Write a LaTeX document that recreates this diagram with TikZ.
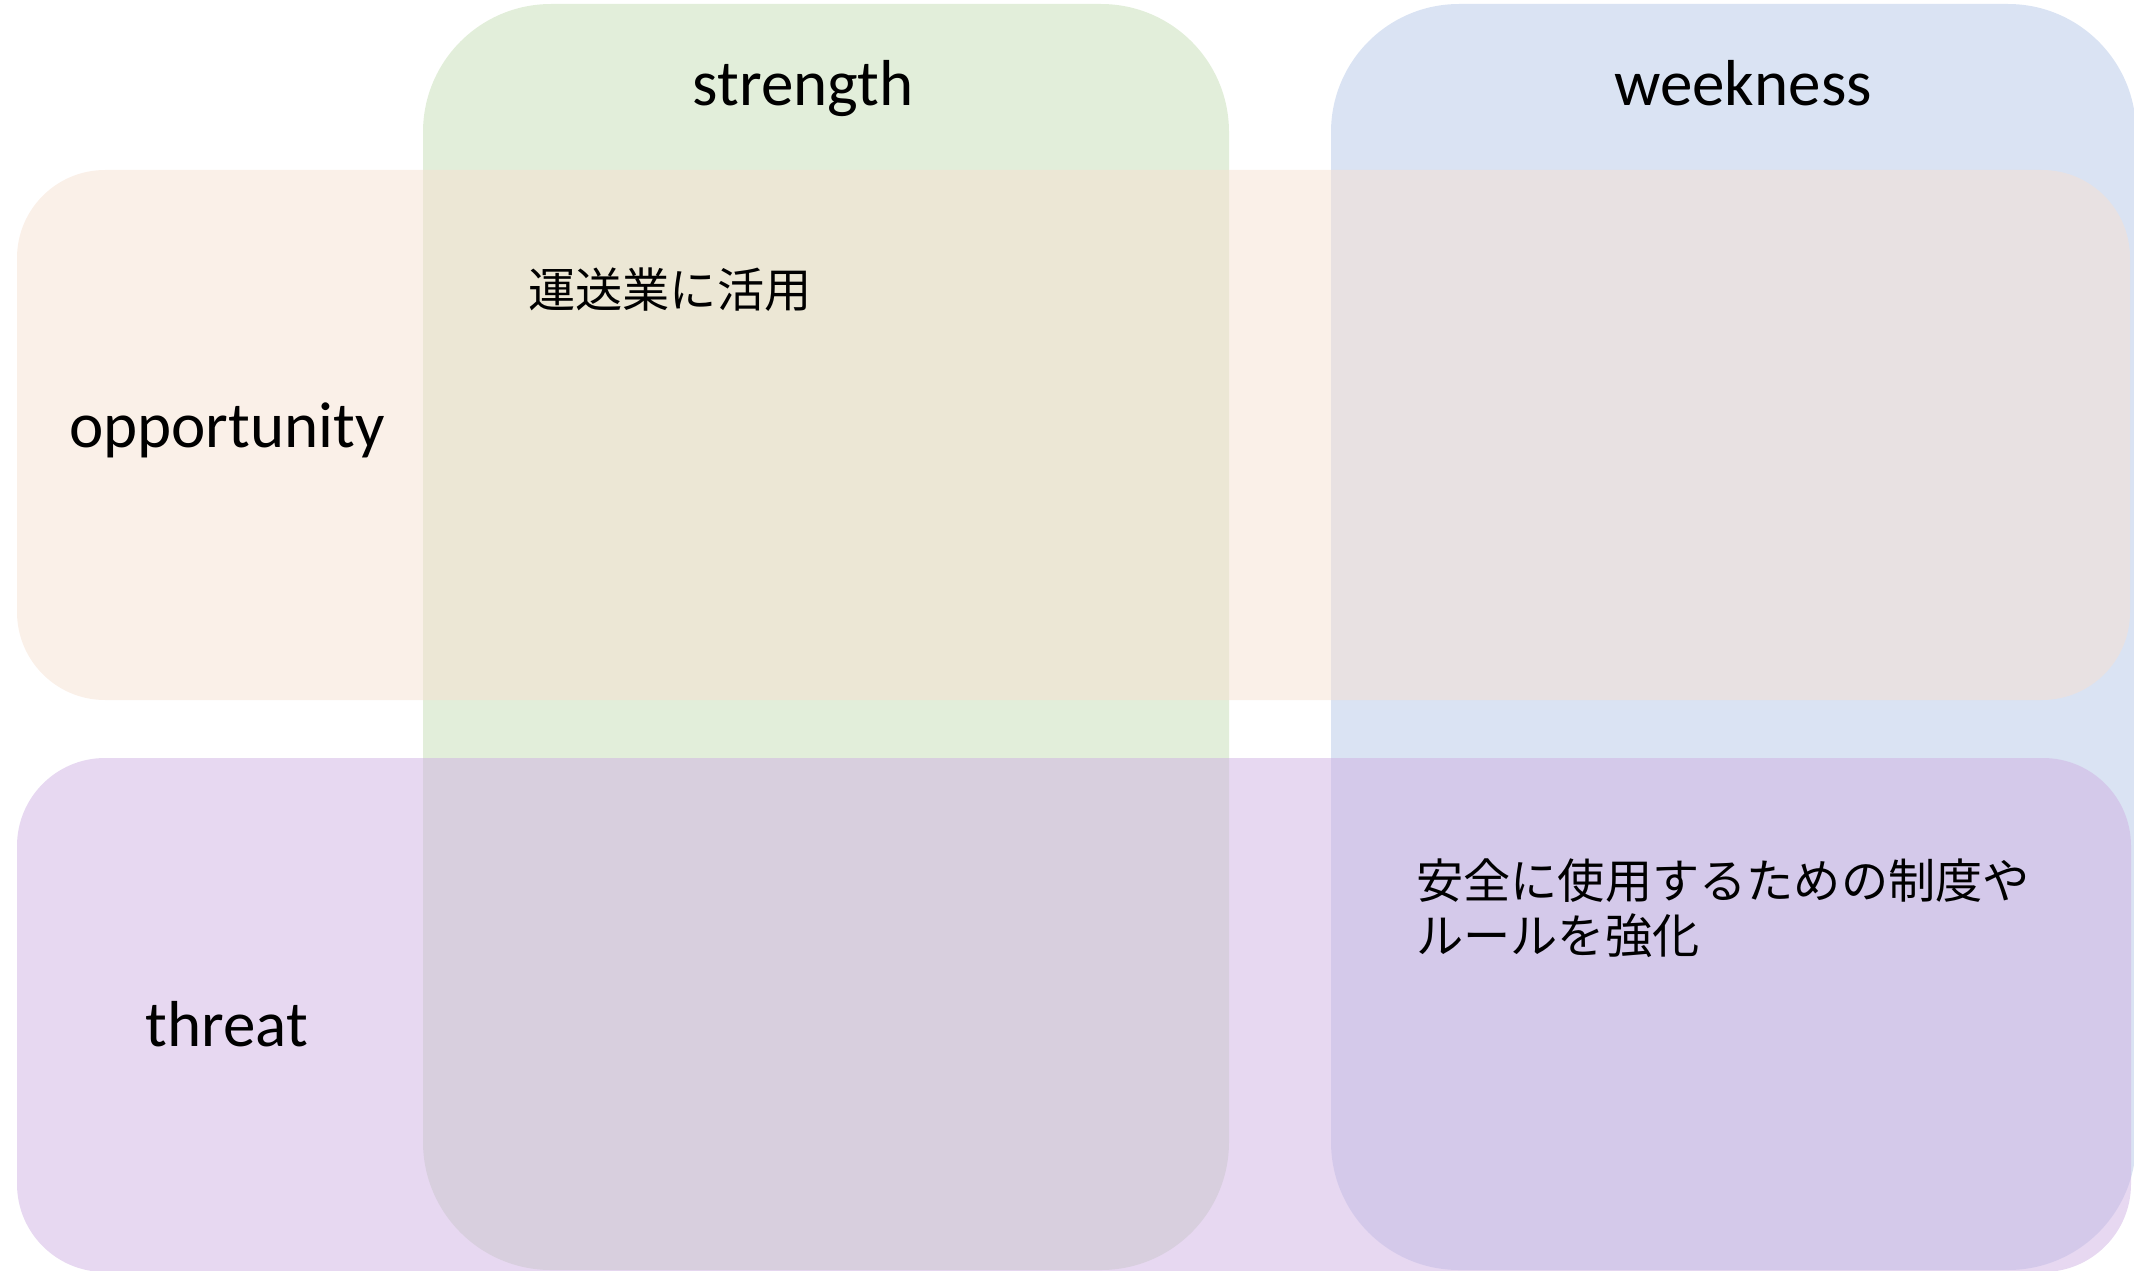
\documentclass[tikz,border=0pt]{standalone}
\usepackage{fontspec}
\setmainfont{Carlito}
\newfontfamily\jp{Noto Sans CJK JP}
\definecolor{cgreen}{RGB}{226,238,218}
\definecolor{cblue}{RGB}{218,227,243}
\definecolor{corange}{RGB}{246,225,210}
\definecolor{cpurple}{RGB}{207,177,227}
\tikzset{
  col/.style={draw=none, inner sep=0pt, outer sep=0pt, rounded corners=128pt, minimum width=806pt, minimum height=1266pt},
  row/.style={draw=none, inner sep=0pt, outer sep=0pt, rounded corners=88pt, fill opacity=0.5},
  head/.style={inner sep=0pt, font=\fontsize{65}{78}\selectfont},
  body/.style={inner sep=0pt, anchor=west, align=left, font=\jp\fontsize{47.2}{55}\selectfont}
}
\begin{document}
\begin{tikzpicture}[x=1pt,y=-1pt]
\useasboundingbox (0,0) rectangle (2134,1271);
\node[col, fill=cgreen] (S) at (826,637) {};
\node[col, fill=cblue, minimum width=805pt] (W) at (1733.5,637) {};
\node[row, fill=corange, minimum width=2113pt, minimum height=530pt] (O) at (1073.5,435) {};
\node[row, fill=cpurple, minimum width=2114pt, minimum height=514pt] (T) at (1074,1015) {};
\node[head] (st) at (803,89) {strength};
\node[head] (wk) at (1743,83) {weekness};
\node[head] (op) at (227,430) {opportunity};
\node[head] (th) at (227,1024) {threat};
\node[body] (t1) at (528,290) {運送業に活用};
\node[body] (t2) at (1416,908) {安全に使用するための制度や\\ルールを強化};
\end{tikzpicture}
\end{document}
